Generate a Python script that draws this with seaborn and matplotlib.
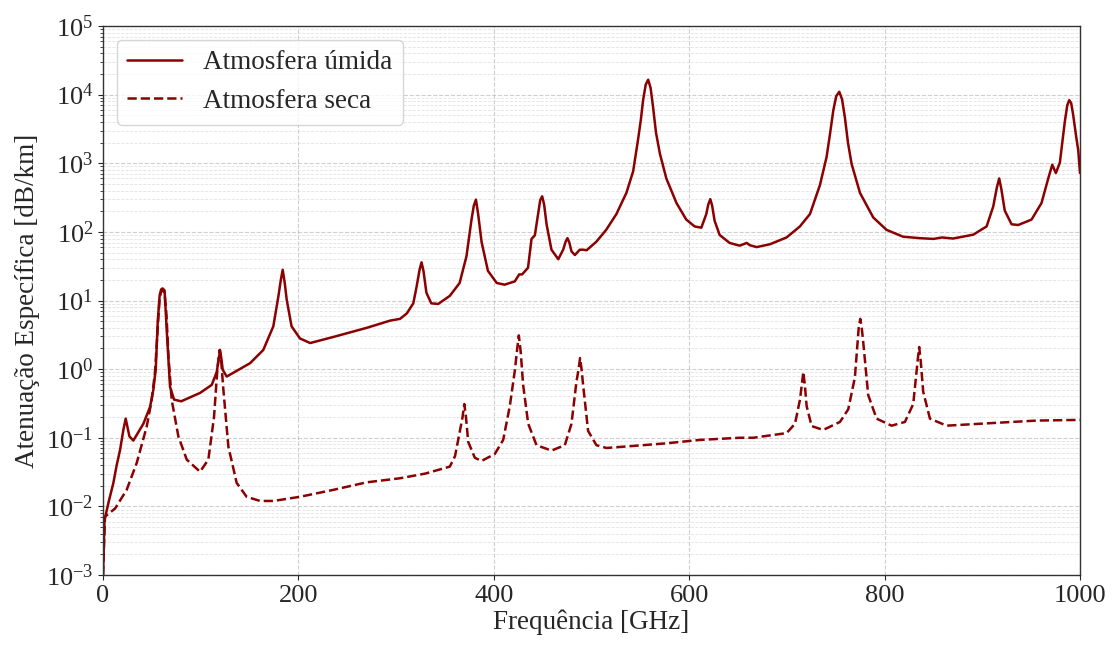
import numpy as np
import pandas as pd
import matplotlib
matplotlib.use("Agg")
import matplotlib.pyplot as plt
import seaborn as sns

# Atmosfera úmida (frequência em GHz, atenuação em dB/km)
freq_umida = [0, 1.5, 6, 10.6, 14, 17.4, 20.8, 23.2, 27, 31, 36, 41.3, 48.1, 51.5, 54, 56,
              58, 59.5, 61, 63, 65.2, 68.6, 72.7, 80, 99.3, 111.3, 116.4, 118.4, 119.8,
              121.2, 122.5, 126.6, 150.5, 164, 174.3, 179.5, 182, 183.9, 186, 188, 193,
              201.6, 212, 236, 270, 294, 304, 311, 317.6, 321, 324, 326, 328, 331, 336, 343,
              355, 365, 372, 377, 379.5, 381.7, 384, 387.5, 394, 403, 411, 421.5, 426, 429,
              435, 438.6, 442, 445.4, 447.5, 449.5, 451.5, 454, 459, 466, 471, 473.5, 475.4,
              477.3, 479.5, 483, 488, 491.4, 495, 505, 515, 525.5, 535.7, 542.6, 547.7,
              550.5, 552.8, 555.5, 558, 560.5, 563, 566, 570, 576.6, 587, 597, 605.6, 612.4,
              617.5, 619.5, 621.6, 623.5, 626, 631.2, 641.4, 651.6, 658.9, 662, 669, 682.6,
              699.7, 713.3, 723.6, 733.8, 740.6, 744, 747.5, 750.5, 753.6, 756.5, 759.4,
              762.5, 766.2, 774.8, 788.4, 802, 819, 836, 850, 859, 862, 870, 890.7, 904.4,
              911.2, 915, 917.3, 919.5, 923, 930, 936.8, 950.4, 960.6, 967.5, 971.6, 975.3,
              979.4, 984.5, 987, 989, 991, 993, 996, 998.2, 1000]
aten_umida = [0.001, 0.0063, 0.012, 0.022, 0.04, 0.066, 0.13, 0.19, 0.105, 0.091, 0.12, 0.16,
              0.28, 0.5, 1.0, 5, 12, 14.5, 15, 14, 3.7, 0.55, 0.36, 0.34, 0.45, 0.59, 0.91,
              1.4, 1.9, 1.4, 0.98, 0.78, 1.22, 1.9, 4.2, 11.5, 20, 28, 18, 10.3, 4.2, 2.8,
              2.4, 2.95, 4.0, 5.1, 5.4, 6.5, 9.1, 16, 28, 36, 27, 13, 9.1, 8.9, 11.7, 18, 44,
              145, 240, 295, 180, 71, 27, 18, 17, 19, 24, 24, 30, 79, 89, 182, 290, 330, 250,
              129, 55, 40, 55, 72, 81, 70, 52, 46, 55, 55, 54, 72, 107, 182, 370, 760, 2240,
              4300, 8300, 14000, 16500, 12500, 6600, 2800, 1380, 600, 263, 151, 120, 115, 182,
              250, 300, 240, 145, 90, 69, 63, 69, 64, 60, 66, 83, 120, 182, 480, 1230, 2600,
              5900, 9500, 11000, 8500, 4600, 2000, 980, 370, 162, 107, 85, 81, 79, 83, 82, 80,
              91, 120, 234, 450, 600, 420, 204, 129, 126, 151, 263, 600, 950, 720, 1020, 4070,
              7000, 8300, 7500, 5100, 2500, 1550, 720]

# Atmosfera seca
freq_seca = [0, 2, 12.3, 24.2, 34.5, 44.7, 49.8, 53.2, 56, 58, 59.5, 61, 63, 65, 67, 70.3,
             77.1, 85.7, 99.3, 107.8, 113.6, 117, 118.4, 119.4, 121, 123.2, 128.3, 136.8, 147,
             160.7, 174.4, 201.6, 235.6, 269.7, 304, 324, 329.6, 355, 360.3, 365.3, 368,
             369.8, 371.5, 373.8, 380.6, 387.5, 401, 409.6, 416.4, 421.5, 424, 425.6, 427.5,
             430, 435.2, 443.7, 459, 472.7, 479.5, 484.6, 486.8, 488.3, 489.8, 491.4, 496.5,
             505, 515.3, 542.6, 576.6, 610.8, 651.6, 665.6, 699.7, 708.3, 713.4, 715.3, 716.8,
             718.3, 720.2, 725.3, 737.2, 754.3, 762.8, 769.6, 773.5, 775.1, 776.6, 778.1,
             783.2, 791.8, 807.1, 820.8, 829.3, 834, 835.4, 837, 839.5, 846.4, 863.4, 904.4,
             955.5, 1000]
aten_seca = [0.001, 0.0071, 0.0093, 0.0174, 0.043, 0.145, 0.355, 0.9, 4.0, 11, 13.5, 14, 13,
             6, 1.5, 0.355, 0.105, 0.048, 0.032, 0.048, 0.2, 0.98, 1.5, 1.9, 1.3, 0.5, 0.074,
             0.022, 0.0138, 0.012, 0.012, 0.0138, 0.0174, 0.0224, 0.0257, 0.029, 0.030,
             0.038, 0.054, 0.126, 0.2, 0.31, 0.2, 0.087, 0.051, 0.046, 0.058, 0.093, 0.29,
             0.95, 2.0, 3.1, 1.8, 0.59, 0.16, 0.078, 0.065, 0.078, 0.16, 0.66, 1.0, 1.45,
             1.0, 0.59, 0.126, 0.078, 0.071, 0.076, 0.083, 0.093, 0.1, 0.1, 0.117, 0.16,
             0.36, 0.6, 0.91, 0.6, 0.29, 0.148, 0.13, 0.17, 0.26, 0.76, 4.0, 5.4, 4.0, 2.5,
             0.42, 0.19, 0.15, 0.17, 0.31, 1.4, 2.1, 1.3, 0.47, 0.19, 0.15, 0.162, 0.178,
             0.182]

sns.set_style("ticks")
plt.rcParams["font.family"] = ["Liberation Serif", "DejaVu Serif"]
plt.rcParams["mathtext.fontset"] = "stix"

fig, ax = plt.subplots(figsize=(11.15, 6.45), dpi=100)
fig.subplots_adjust(left=0.0924, right=0.9686, top=0.9597, bottom=0.1085)

cor = "#8B0000"
sns.lineplot(x=freq_umida, y=aten_umida, ax=ax, color=cor, lw=1.8,
             estimator=None, sort=False, label="Atmosfera úmida")
sns.lineplot(x=freq_seca, y=aten_seca, ax=ax, color=cor, lw=1.8, linestyle="--",
             estimator=None, sort=False, label="Atmosfera seca")

ax.set_yscale("log")
ax.set_xlim(0, 1000)
ax.set_ylim(1e-3, 1e5)
ax.set_xticks([0, 200, 400, 600, 800, 1000])

ax.grid(True, which="major", linestyle="--", color="#b0b0b0", alpha=0.6, lw=0.8)
ax.grid(True, which="minor", axis="y", linestyle="--", color="#c8c8c8", alpha=0.5, lw=0.6)

ax.set_xlabel("Frequência [GHz]", fontsize=19.5, labelpad=2)
ax.set_ylabel("Atenuação Específica [dB/km]", fontsize=19.5)
ax.tick_params(axis="both", which="major", labelsize=19)
for s in ax.spines.values():
    s.set_linewidth(1.0)
    s.set_color("#333333")

ax.legend(loc="upper left", fontsize=19.5, frameon=True, fancybox=True, framealpha=0.8)

plt.savefig("out.png", dpi=100)
